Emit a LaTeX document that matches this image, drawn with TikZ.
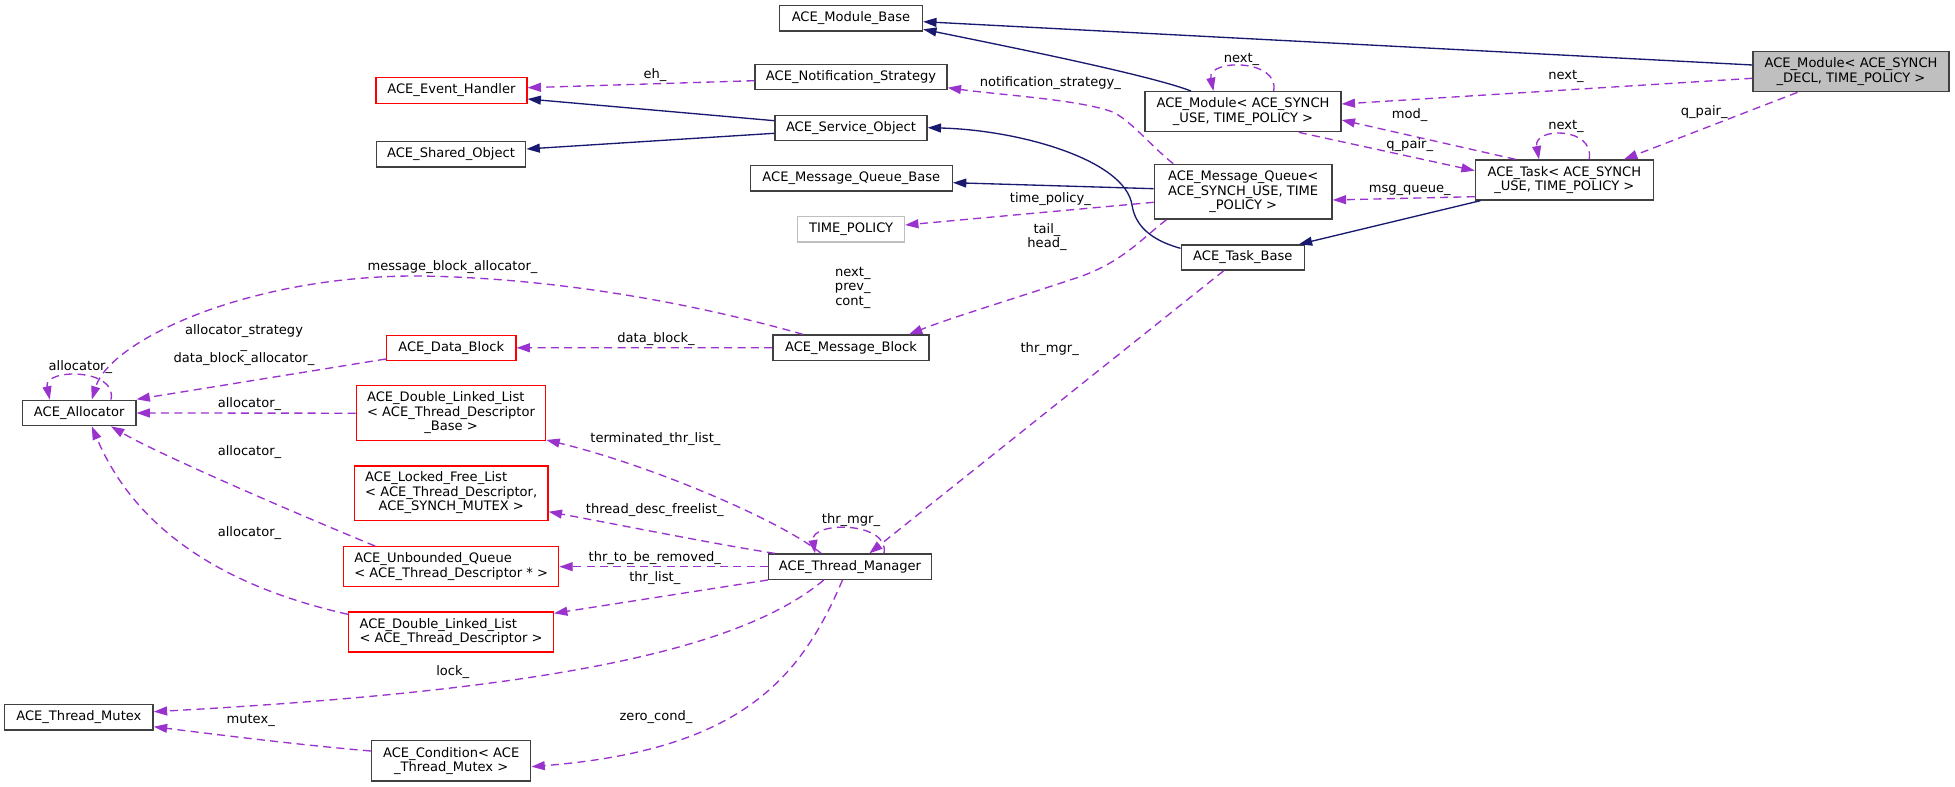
\documentclass[tikz,border=0pt]{standalone}
\usepackage{fontspec}
\setmainfont{DejaVu Sans}
\usetikzlibrary{arrows.meta,calc}
\definecolor{mblue}{HTML}{191970}
\definecolor{orch}{HTML}{9A32CD}
\definecolor{gtw}{HTML}{404040}
\definecolor{gsf}{HTML}{BFBFBF}
\newcommand{\acefont}{\fontsize{9.8pt}{10.7pt}\selectfont}
\begin{document}
\begin{tikzpicture}[x=0.75pt,y=-0.75pt,
  cls/.style={draw=gtw,line width=1pt,fill=white,inner sep=0pt,align=center,font=\acefont},
  redcls/.style={cls,draw=red},
  sz/.style 2 args={minimum width=#1*0.75pt,minimum height=#2*0.75pt},
  lab/.style={font=\acefont,inner sep=0pt,align=center},
  usearr/.style={draw=orch,line width=1pt,dash pattern=on 6pt off 4pt,-{Triangle[length=10pt,width=6.7pt]}},
  inharr/.style={draw=mblue,line width=1pt,-{Triangle[length=10pt,width=6.7pt]}}]
\fill[white] (0,0) rectangle (1955,787);
\useasboundingbox (0,0) rectangle (1955,787);

% nodes
\node[cls,fill=gsf,sz={196}{40}] (DECL) at (1851,71.7) {ACE\_Module< ACE\_SYNCH\\\_DECL, TIME\_POLICY >};
\node[cls,sz={143}{25.3}] (ModBase) at (851,18.3) {ACE\_Module\_Base};
\node[cls,sz={192}{25}] (NS) at (851,77.2) {ACE\_Notification\_Strategy};
\node[redcls,sz={151}{25.6}] (EH) at (451.4,90.5) {ACE\_Event\_Handler};
\node[cls,sz={152}{25.4}] (SO) at (851,128) {ACE\_Service\_Object};
\node[cls,sz={149.6}{25.3}] (ShO) at (451,154.3) {ACE\_Shared\_Object};
\node[cls,sz={196}{40}] (ModUSE) at (1243,111.7) {ACE\_Module< ACE\_SYNCH\\\_USE, TIME\_POLICY >};
\node[cls,sz={202}{25.3}] (MQB) at (851.3,178.3) {ACE\_Message\_Queue\_Base};
\node[cls,sz={177.7}{54.7}] (MQ) at (1243.2,191.7) {ACE\_Message\_Queue<\\ACE\_SYNCH\_USE, TIME\\\_POLICY >};
\node[cls,draw=gsf,sz={106.7}{25.3}] (TP) at (851.1,229.3) {TIME\_POLICY};
\node[cls,sz={123.2}{25}] (TaskBase) at (1242.8,257.5) {ACE\_Task\_Base};
\node[cls,sz={177.8}{40}] (Task) at (1564.3,180) {ACE\_Task< ACE\_SYNCH\\\_USE, TIME\_POLICY >};
\node[cls,sz={113.3}{25.4}] (Alloc) at (79.2,413) {ACE\_Allocator};
\node[redcls,sz={129.4}{25}] (DB) at (451.2,347.8) {ACE\_Data\_Block};
\node[redcls,sz={189.4}{55}] (DLLB) at (451,413.2) {\begin{tabular}{@{}l@{}}ACE\_Double\_Linked\_List\\< ACE\_Thread\_Descriptor\\\multicolumn{1}{@{}c@{}}{\_Base >}\end{tabular}};
\node[redcls,sz={193.6}{54.3}] (LFL) at (451.2,493.2) {\begin{tabular}{@{}l@{}}ACE\_Locked\_Free\_List\\< ACE\_Thread\_Descriptor,\\\multicolumn{1}{@{}c@{}}{ACE\_SYNCH\_MUTEX >}\end{tabular}};
\node[cls,sz={156.2}{25.3}] (MB) at (851,347.7) {ACE\_Message\_Block};
\node[redcls,align=left,sz={215}{40}] (UQ) at (451.2,566.7) {ACE\_Unbounded\_Queue\\< ACE\_Thread\_Descriptor * >};
\node[redcls,align=left,sz={204.8}{40}] (DLL) at (451,632) {ACE\_Double\_Linked\_List\\< ACE\_Thread\_Descriptor >};
\node[cls,sz={148.5}{25.3}] (TMx) at (78.9,717.4) {ACE\_Thread\_Mutex};
\node[cls,sz={159.2}{40.3}] (Cond) at (451.2,760.9) {ACE\_Condition< ACE\\\_Thread\_Mutex >};
\node[cls,sz={163}{25.3}] (TM) at (850,566.7) {ACE\_Thread\_Manager};

% edges
\draw[inharr] ($(DECL.west)+(0,-6.7)$) -- ($(ModBase.east)+(0,3.4)$);
\draw[inharr] ($(ModUSE.north)+(-52,0)$) .. controls (1150,75) and (1000,45) .. ($(ModBase.east)+(0,11)$);
\draw[usearr] ($(DECL.west)+(0,6.6)$) -- ($(ModUSE.east)+(0,-7.7)$);
\draw[usearr] ($(DECL.south)+(-53.5,0)$) -- ($(Task.north)+(59.7,0)$);
\draw[usearr] ($(ModUSE.north)+(30.6,0)$) .. controls (1280,58.7) and (1207,58.7) .. ($(ModUSE.north)+(-29.6,0)$);
\draw[usearr] ($(MQ.north)+(-70,0)$) .. controls (1150,145) and (1135,125) .. (1115,113) .. controls (1085,100) and (1000,95) .. ($(NS.east)+(0,10.5)$);
\draw[usearr] ($(NS.west)+(0,3.5)$) -- ($(EH.east)+(0,-2.8)$);
\draw[inharr] ($(SO.west)+(0,-7.3)$) -- ($(EH.east)+(0,8.5)$);
\draw[inharr] ($(SO.west)+(0,5.3)$) -- ($(ShO.east)+(0,-5.3)$);
\draw[inharr] ($(TaskBase.west)+(0,-9.2)$) .. controls (1150,240) and (1135,225) .. (1132,205) .. controls (1125,160) and (1020,130) .. ($(SO.east)+(0,-0.3)$);
\draw[inharr] ($(MQ.west)+(0,-3)$) -- ($(MQB.east)+(0,4.4)$);
\draw[usearr] ($(MQ.west)+(0,10.6)$) -- ($(TP.east)+(0,-4.3)$);
\draw[usearr] ($(MQ.south)+(-76.7,0)$) .. controls (1140,240) and (1120,265) .. (1070,280) .. controls (1010,300) and (950,318) .. ($(MB.north)+(58,0)$);
\draw[usearr] ($(Task.north)+(-48.8,0)$) -- ($(ModUSE.east)+(0,8.3)$);
\draw[usearr] ($(ModUSE.south)+(55.8,0)$) -- ($(Task.west)+(0,-9.3)$);
\draw[usearr] ($(Task.north)+(24.9,0)$) .. controls (1595,126.7) and (1533,126.7) .. ($(Task.north)+(-25.3,0)$);
\draw[usearr] ($(Task.west)+(0,16.7)$) -- ($(MQ.east)+(0,8.3)$);
\draw[inharr] ($(Task.south)+(-83.8,0)$) -- ($(TaskBase.north)+(56,0)$);
\draw[usearr] ($(Alloc.north)+(31.8,0)$) .. controls (118,368) and (43,368) .. ($(Alloc.north)+(-29.4,0)$);
\draw[usearr] ($(MB.north)+(-48,0)$) .. controls (700,305) and (560,278) .. (420,276) .. controls (250,275) and (110,340) .. ($(Alloc.north)+(12.6,0)$);
\draw[usearr] ($(DB.west)+(0,11.2)$) -- ($(Alloc.east)+(0,-13.7)$);
\draw[usearr] (MB.west) -- (DB.east);
\draw[usearr] (DLLB.west) -- (Alloc.east);
\draw[usearr] ($(UQ.north)+(-76.2,0)$) .. controls (300,515) and (160,455) .. ($(Alloc.south)+(31.8,0)$);
\draw[usearr] ($(DLL.west)+(0,-17.7)$) .. controls (240,590) and (140,540) .. ($(Alloc.south)+(12.6,0)$);
\draw[usearr] ($(TM.north)+(-28.8,0)$) .. controls (780,520) and (650,465) .. ($(DLLB.south east)+(0,-1.4)$);
\draw[usearr] ($(TM.north)+(-75.2,0)$) .. controls (720,545) and (620,525) .. ($(LFL.east)+(0,18.5)$);
\draw[usearr] (TM.west) -- (UQ.east);
\draw[usearr] ($(TM.west)+(0,13.3)$) -- ($(DLL.east)+(0,-18.7)$);
\draw[usearr] ($(TM.north)+(34,0)$) .. controls (890,521) and (810,521) .. ($(TM.north)+(-35,0)$);
\draw[usearr] ($(TaskBase.south)+(-19,0)$) -- ($(TM.north)+(19.3,0)$);
\draw[usearr] ($(TM.south)+(-26.2,0)$) .. controls (740,650) and (550,690) .. ($(TMx.east)+(0,-5.7)$);
\draw[usearr] ($(TM.south)+(-7.5,0)$) .. controls (800,680) and (740,750) .. ($(Cond.east)+(0,5.8)$);
\draw[usearr] ($(Cond.west)+(0,-9.9)$) .. controls (300,745) and (220,735) .. ($(TMx.east)+(0,9.3)$);

% labels
\node[lab] (l1) at (1566,76.7) {next\_};
\node[lab] (l2) at (1704.2,111.7) {q\_pair\_};
\node[lab] (l3) at (1241.5,59) {next\_};
\node[lab] (l4) at (1050.4,82.7) {notification\_strategy\_};
\node[lab] (l5) at (655,74.7) {eh\_};
\node[lab] (l6) at (1050.4,199) {time\_policy\_};
\node[lab] (l7) at (1047,237.2) {tail\_\\head\_};
\node[lab] (l8) at (1409.7,115) {mod\_};
\node[lab] (l9) at (1409.7,145) {q\_pair\_};
\node[lab] (l10) at (1566,126.7) {next\_};
\node[lab] (l11) at (1409.7,190) {msg\_queue\_};
\node[lab] (l12) at (80.4,367.3) {allocator\_};
\node[lab] (l13) at (452.5,266.7) {message\_block\_allocator\_};
\node[lab] (l14) at (244,345) {allocator\_strategy\\\_\\data\_block\_allocator\_};
\node[lab] (l15) at (656,339.3) {data\_block\_};
\node[lab] (l16) at (249.5,404.3) {allocator\_};
\node[lab] (l17) at (249.5,452.3) {allocator\_};
\node[lab] (l18) at (249.5,532.7) {allocator\_};
\node[lab] (l19) at (852.8,287.9) {next\_\\prev\_\\cont\_};
\node[lab] (l20) at (655.4,439.3) {terminated\_thr\_list\_};
\node[lab] (l21) at (654.8,510) {thread\_desc\_freelist\_};
\node[lab] (l22) at (654.8,558.3) {thr\_to\_be\_removed\_};
\node[lab] (l23) at (654.8,578.3) {thr\_list\_};
\node[lab] (l24) at (851,520.5) {thr\_mgr\_};
\node[lab] (l25) at (1049.7,349.3) {thr\_mgr\_};
\node[lab] (l26) at (452.7,671.7) {lock\_};
\node[lab] (l27) at (656,716.7) {zero\_cond\_};
\node[lab] (l28) at (250.7,720) {mutex\_};
\end{tikzpicture}
\end{document}
